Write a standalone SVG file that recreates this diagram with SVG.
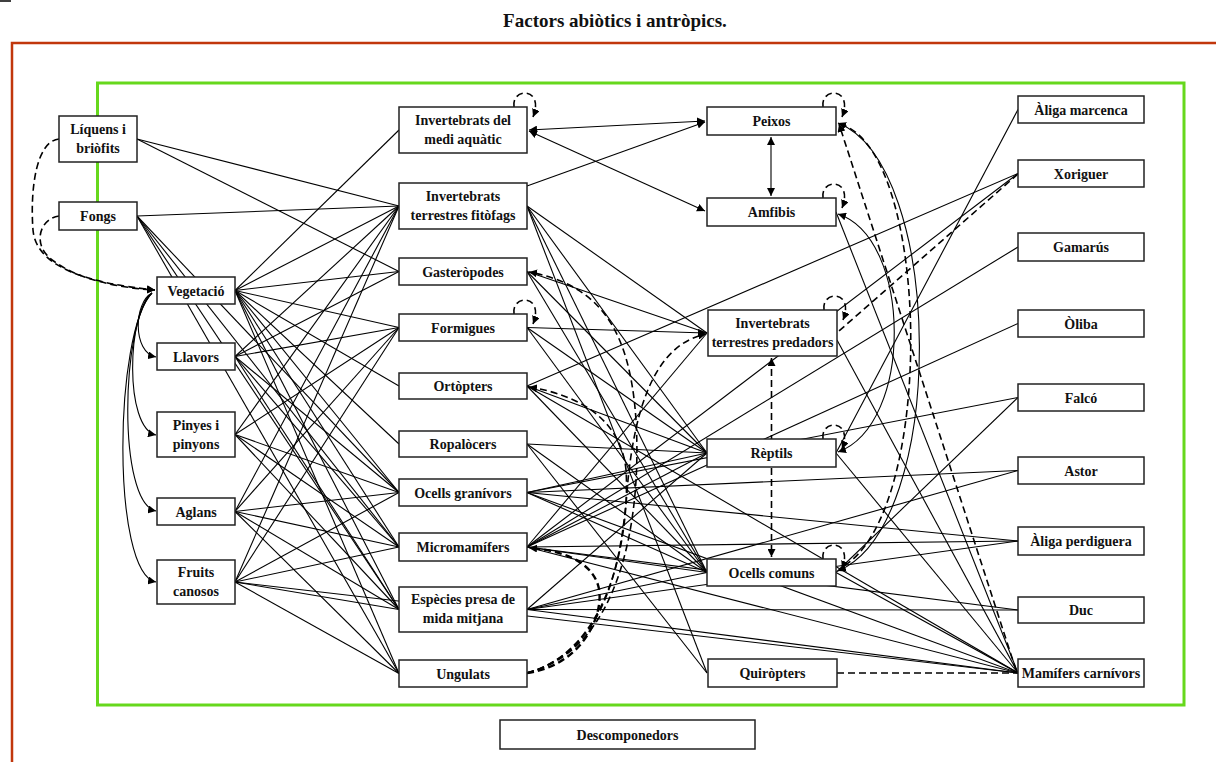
<svg xmlns="http://www.w3.org/2000/svg" width="1216" height="762" viewBox="0 0 1216 762">
<style>
.bx{fill:#fff;stroke:#222;stroke-width:1.5}
.t{font-family:"Liberation Serif","DejaVu Serif",serif;font-weight:bold;font-size:14px;fill:#111;text-anchor:middle}
.ln{stroke:#000;stroke-width:1.1;fill:none}
.ds{stroke:#000;stroke-width:1.6;fill:none;stroke-dasharray:7 4}
.dh{stroke:#000;stroke-width:2.4;fill:none;stroke-dasharray:7 4}
</style>
<defs>
<marker id="ah" viewBox="0 0 10 10" refX="10" refY="5" markerUnits="userSpaceOnUse" markerWidth="8" markerHeight="8" orient="auto-start-reverse"><path d="M0,0 L10,5 L0,10 z" fill="#000"/></marker>
</defs>
<rect width="1216" height="762" fill="#fff"/>
<line x1="0" y1="1" x2="11" y2="1" stroke="#000" stroke-width="1.5"/>
<text x="615" y="27" font-family="'Liberation Serif','DejaVu Serif',serif" font-weight="bold" font-size="19" text-anchor="middle" fill="#111">Factors abiòtics i antròpics.</text>
<path d="M1216,43 L12,43 L12,762" fill="none" stroke="#c1370c" stroke-width="2.5"/>
<rect x="97.5" y="83" width="1086.5" height="622" fill="none" stroke="#66d81c" stroke-width="3"/>

<g id="connectors">
<line class="ln" x1="137" y1="139" x2="399" y2="206"/>
<line class="ln" x1="137" y1="139" x2="399" y2="271.5"/>
<line class="ln" x1="137" y1="216" x2="399" y2="206"/>
<line class="ln" x1="137" y1="216" x2="399" y2="492.5"/>
<line class="ln" x1="137" y1="216" x2="399" y2="547"/>
<line class="ln" x1="137" y1="216" x2="399" y2="609.5"/>
<line class="ln" x1="137" y1="216" x2="399" y2="673.5"/>
<line class="ln" x1="235" y1="290.5" x2="399" y2="130"/>
<line class="ln" x1="235" y1="290.5" x2="399" y2="206"/>
<line class="ln" x1="235" y1="290.5" x2="399" y2="271.5"/>
<line class="ln" x1="235" y1="290.5" x2="399" y2="327.5"/>
<line class="ln" x1="235" y1="290.5" x2="399" y2="386"/>
<line class="ln" x1="235" y1="290.5" x2="399" y2="444"/>
<line class="ln" x1="235" y1="290.5" x2="399" y2="492.5"/>
<line class="ln" x1="235" y1="290.5" x2="399" y2="547"/>
<line class="ln" x1="235" y1="290.5" x2="399" y2="609.5"/>
<line class="ln" x1="235" y1="290.5" x2="399" y2="673.5"/>
<line class="ln" x1="235" y1="356.5" x2="399" y2="206"/>
<line class="ln" x1="235" y1="356.5" x2="399" y2="271.5"/>
<line class="ln" x1="235" y1="356.5" x2="399" y2="327.5"/>
<line class="ln" x1="235" y1="356.5" x2="399" y2="492.5"/>
<line class="ln" x1="235" y1="356.5" x2="399" y2="547"/>
<line class="ln" x1="235" y1="356.5" x2="399" y2="609.5"/>
<line class="ln" x1="235" y1="434.5" x2="399" y2="206"/>
<line class="ln" x1="235" y1="434.5" x2="399" y2="327.5"/>
<line class="ln" x1="235" y1="434.5" x2="399" y2="492.5"/>
<line class="ln" x1="235" y1="434.5" x2="399" y2="547"/>
<line class="ln" x1="235" y1="434.5" x2="399" y2="609.5"/>
<line class="ln" x1="235" y1="511.5" x2="399" y2="206"/>
<line class="ln" x1="235" y1="511.5" x2="399" y2="327.5"/>
<line class="ln" x1="235" y1="511.5" x2="399" y2="492.5"/>
<line class="ln" x1="235" y1="511.5" x2="399" y2="547"/>
<line class="ln" x1="235" y1="511.5" x2="399" y2="609.5"/>
<line class="ln" x1="235" y1="511.5" x2="399" y2="673.5"/>
<line class="ln" x1="235" y1="582" x2="399" y2="206"/>
<line class="ln" x1="235" y1="582" x2="399" y2="327.5"/>
<line class="ln" x1="235" y1="582" x2="399" y2="492.5"/>
<line class="ln" x1="235" y1="582" x2="399" y2="547"/>
<line class="ln" x1="235" y1="582" x2="399" y2="609.5"/>
<line class="ln" x1="235" y1="582" x2="399" y2="673.5"/>
<line class="ln" x1="235" y1="582" x2="1018" y2="673"/>
<path class="ln" d="M152,293 C134,302 132,352 156,357" marker-end="url(#ah)"/>
<path class="ln" d="M152,293 C127,312 124,428 156,435" marker-end="url(#ah)"/>
<path class="ln" d="M152,293 C121,322 117,503 156,511" marker-end="url(#ah)"/>
<path class="ln" d="M152,293 C114,332 111,573 156,582" marker-end="url(#ah)"/>
<path class="ds" d="M59,139 C36,141 30,190 33,230 C36,266 85,283 155,290" marker-end="url(#ah)"/>
<path class="ds" d="M59,216 C40,218 30,246 55,262 C80,280 120,288 155,290" marker-end="url(#ah)"/>
<line class="ln" x1="529" y1="130" x2="705" y2="121" marker-start="url(#ah)" marker-end="url(#ah)"/>
<line class="ln" x1="529" y1="131" x2="705" y2="211" marker-start="url(#ah)" marker-end="url(#ah)"/>
<line class="ln" x1="527" y1="186" x2="705" y2="122" marker-end="url(#ah)"/>
<line class="ln" x1="527" y1="206" x2="707" y2="333"/>
<line class="ln" x1="527" y1="206" x2="707" y2="453"/>
<line class="ln" x1="527" y1="206" x2="707" y2="572.5"/>
<line class="ln" x1="527" y1="206" x2="707" y2="673"/>
<line class="ln" x1="527" y1="271.5" x2="707" y2="333"/>
<line class="ln" x1="527" y1="271.5" x2="707" y2="453"/>
<line class="ln" x1="527" y1="271.5" x2="707" y2="572.5"/>
<line class="ln" x1="527" y1="327.5" x2="706" y2="333" marker-end="url(#ah)"/>
<line class="ln" x1="527" y1="327.5" x2="707" y2="453"/>
<line class="ln" x1="527" y1="327.5" x2="707" y2="572.5"/>
<line class="ln" x1="527" y1="386" x2="707" y2="453"/>
<line class="ln" x1="527" y1="386" x2="707" y2="572.5"/>
<line class="ln" x1="527" y1="386" x2="1018" y2="173.5"/>
<line class="ln" x1="527" y1="386" x2="1018" y2="673"/>
<line class="ln" x1="527" y1="444" x2="707" y2="453"/>
<line class="ln" x1="527" y1="444" x2="707" y2="572.5"/>
<line class="ln" x1="527" y1="444" x2="707" y2="673"/>
<line class="ln" x1="527" y1="492.5" x2="707" y2="453"/>
<line class="ln" x1="527" y1="492.5" x2="707" y2="572.5"/>
<line class="ln" x1="527" y1="492.5" x2="1018" y2="397.5"/>
<line class="ln" x1="527" y1="492.5" x2="1018" y2="470.5"/>
<line class="ln" x1="527" y1="492.5" x2="1018" y2="541"/>
<line class="ln" x1="527" y1="492.5" x2="1018" y2="673"/>
<line class="ln" x1="527" y1="547" x2="707" y2="333"/>
<line class="ln" x1="527" y1="547" x2="707" y2="453"/>
<line class="ln" x1="527" y1="547" x2="707" y2="572.5"/>
<line class="ln" x1="527" y1="547" x2="1018" y2="173.5"/>
<line class="ln" x1="527" y1="547" x2="1018" y2="247"/>
<line class="ln" x1="527" y1="547" x2="1018" y2="323.5"/>
<line class="ln" x1="527" y1="547" x2="1018" y2="541"/>
<line class="ln" x1="527" y1="547" x2="1018" y2="610"/>
<line class="ln" x1="527" y1="547" x2="1018" y2="673"/>
<line class="ln" x1="527" y1="609.5" x2="707" y2="453"/>
<line class="ln" x1="527" y1="609.5" x2="707" y2="572.5"/>
<line class="ln" x1="527" y1="609.5" x2="1018" y2="470.5"/>
<line class="ln" x1="527" y1="609.5" x2="1018" y2="541"/>
<line class="ln" x1="527" y1="609.5" x2="1018" y2="610"/>
<line class="ln" x1="527" y1="609.5" x2="1018" y2="673"/>
<line class="ln" x1="771" y1="137" x2="771" y2="196" marker-start="url(#ah)" marker-end="url(#ah)"/>
<line class="ln" x1="836" y1="212" x2="1018" y2="673"/>
<line class="ln" x1="837" y1="340" x2="1018" y2="673"/>
<line class="ln" x1="836" y1="453" x2="1018" y2="109.5"/>
<line class="ln" x1="836" y1="453" x2="1018" y2="673"/>
<line class="ln" x1="836" y1="572.5" x2="1018" y2="397.5"/>
<line class="ln" x1="836" y1="572.5" x2="1018" y2="673"/>
<path class="ln" d="M838,214 C912,238 914,424 838,452" marker-start="url(#ah)" marker-end="url(#ah)"/>
<path class="ln" d="M838,123 C945,165 948,525 838,571" marker-start="url(#ah)" marker-end="url(#ah)"/>
<path class="ds" d="M840,124 C932,150 936,515 842,567"/>
<line class="ds" x1="1016" y1="670" x2="839" y2="124" marker-end="url(#ah)"/>
<line class="ds" x1="1018" y1="174" x2="839" y2="331"/>
<line class="ds" x1="837" y1="673" x2="1018" y2="673"/>
<line class="ds" x1="771.5" y1="358" x2="771.5" y2="557" marker-start="url(#ah)" marker-end="url(#ah)"/>
<path class="dh" d="M527,673 C585,665 606,610 598,585 C590,560 560,550 529,548" marker-end="url(#ah)"/>
<path class="ds" d="M527,673 C620,650 642,520 636,420 C630,330 600,285 529,272" marker-end="url(#ah)"/>
<path class="ds" d="M527,673 C612,650 630,530 626,470 C621,420 580,395 529,387" marker-end="url(#ah)"/>
<path class="ds" d="M527,673 C608,650 622,560 628,480 C638,380 668,342 706,334" marker-end="url(#ah)"/>
<path class="ds" d="M514,107 C511,87 545,87 533,117" marker-end="url(#ah)"/>
<path class="ds" d="M823,107 C820,87 854,87 842,117" marker-end="url(#ah)"/>
<path class="ds" d="M823,198 C820,178 854,178 842,208" marker-end="url(#ah)"/>
<path class="ds" d="M514,314 C511,294 545,294 533,324" marker-end="url(#ah)"/>
<path class="ds" d="M824,310 C821,290 855,290 843,320" marker-end="url(#ah)"/>
<path class="ds" d="M823,439 C820,419 854,419 842,449" marker-end="url(#ah)"/>
<path class="ds" d="M823,559 C820,539 854,539 842,569" marker-end="url(#ah)"/>
</g>

<g id="n-liquens"><rect class="bx" x="59" y="116" width="78" height="46"/><text class="t" x="98" y="134">Líquens i</text><text class="t" x="98" y="153">briòfits</text></g>
<g id="n-fongs"><rect class="bx" x="59" y="202" width="78" height="28"/><text class="t" x="98" y="221">Fongs</text></g>
<g id="n-vegetacio"><rect class="bx" x="157" y="277" width="78" height="27"/><text class="t" x="196" y="295.5">Vegetació</text></g>
<g id="n-llavors"><rect class="bx" x="157" y="343" width="78" height="27"/><text class="t" x="196" y="361.5">Llavors</text></g>
<g id="n-pinyes"><rect class="bx" x="157" y="412" width="78" height="45"/><text class="t" x="196" y="430">Pinyes i</text><text class="t" x="196" y="449">pinyons</text></g>
<g id="n-aglans"><rect class="bx" x="157" y="498" width="78" height="27"/><text class="t" x="196" y="516.5">Aglans</text></g>
<g id="n-fruits"><rect class="bx" x="157" y="560" width="78" height="44"/><text class="t" x="196" y="577">Fruits</text><text class="t" x="196" y="596">canosos</text></g>

<g id="n-aquatic"><rect class="bx" x="399" y="107" width="128" height="46"/><text class="t" x="463" y="125">Invertebrats del</text><text class="t" x="463" y="144">medi aquàtic</text></g>
<g id="n-fitofags"><rect class="bx" x="399" y="183" width="128" height="46"/><text class="t" x="463" y="201">Invertebrats</text><text class="t" x="463" y="220">terrestres fitòfags</text></g>
<g id="n-gasteropodes"><rect class="bx" x="399" y="258" width="128" height="27"/><text class="t" x="463" y="276.5">Gasteròpodes</text></g>
<g id="n-formigues"><rect class="bx" x="399" y="314" width="128" height="27"/><text class="t" x="463" y="332.5">Formigues</text></g>
<g id="n-ortopters"><rect class="bx" x="399" y="373" width="128" height="26"/><text class="t" x="463" y="391">Ortòpters</text></g>
<g id="n-ropalocers"><rect class="bx" x="399" y="431" width="128" height="26"/><text class="t" x="463" y="449">Ropalòcers</text></g>
<g id="n-granivors"><rect class="bx" x="399" y="479" width="128" height="27"/><text class="t" x="463" y="497.5">Ocells granívors</text></g>
<g id="n-micromamifers"><rect class="bx" x="399" y="533" width="128" height="28"/><text class="t" x="463" y="552">Micromamífers</text></g>
<g id="n-especies"><rect class="bx" x="399" y="587" width="128" height="45"/><text class="t" x="463" y="604">Espècies presa de</text><text class="t" x="463" y="623">mida mitjana</text></g>
<g id="n-ungulats"><rect class="bx" x="399" y="660" width="128" height="27"/><text class="t" x="463" y="678.5">Ungulats</text></g>

<g id="n-peixos"><rect class="bx" x="707" y="107" width="129" height="28"/><text class="t" x="771.5" y="126">Peixos</text></g>
<g id="n-amfibis"><rect class="bx" x="707" y="198" width="129" height="28"/><text class="t" x="771.5" y="217">Amfibis</text></g>
<g id="n-predadors"><rect class="bx" x="708" y="310" width="129" height="46"/><text class="t" x="772.5" y="328">Invertebrats</text><text class="t" x="772.5" y="347">terrestres predadors</text></g>
<g id="n-reptils"><rect class="bx" x="707" y="439" width="129" height="28"/><text class="t" x="771.5" y="458">Rèptils</text></g>
<g id="n-ocells-comuns"><rect class="bx" x="707" y="559" width="129" height="27"/><text class="t" x="771.5" y="577.5">Ocells comuns</text></g>
<g id="n-quiropters"><rect class="bx" x="708" y="659" width="129" height="28"/><text class="t" x="772.5" y="678">Quiròpters</text></g>

<g id="n-aliga-marcenca"><rect class="bx" x="1018" y="96" width="126" height="27"/><text class="t" x="1081" y="114.5">Àliga marcenca</text></g>
<g id="n-xoriguer"><rect class="bx" x="1018" y="160" width="126" height="27"/><text class="t" x="1081" y="178.5">Xoriguer</text></g>
<g id="n-gamarus"><rect class="bx" x="1018" y="233" width="126" height="28"/><text class="t" x="1081" y="252">Gamarús</text></g>
<g id="n-oliba"><rect class="bx" x="1018" y="310" width="126" height="27"/><text class="t" x="1081" y="328.5">Òliba</text></g>
<g id="n-falco"><rect class="bx" x="1018" y="384" width="126" height="27"/><text class="t" x="1081" y="402.5">Falcó</text></g>
<g id="n-astor"><rect class="bx" x="1018" y="457" width="126" height="27"/><text class="t" x="1081" y="475.5">Astor</text></g>
<g id="n-aliga-perdiguera"><rect class="bx" x="1018" y="527" width="126" height="28"/><text class="t" x="1081" y="546">Àliga perdiguera</text></g>
<g id="n-duc"><rect class="bx" x="1018" y="597" width="126" height="26"/><text class="t" x="1081" y="615">Duc</text></g>
<g id="n-mamifers"><rect class="bx" x="1018" y="659" width="126" height="28"/><text class="t" x="1081" y="678">Mamífers carnívors</text></g>

<g id="n-descomponedors"><rect class="bx" x="500" y="720" width="255" height="29"/><text class="t" x="627.5" y="740" font-size="15">Descomponedors</text></g>
</svg>
